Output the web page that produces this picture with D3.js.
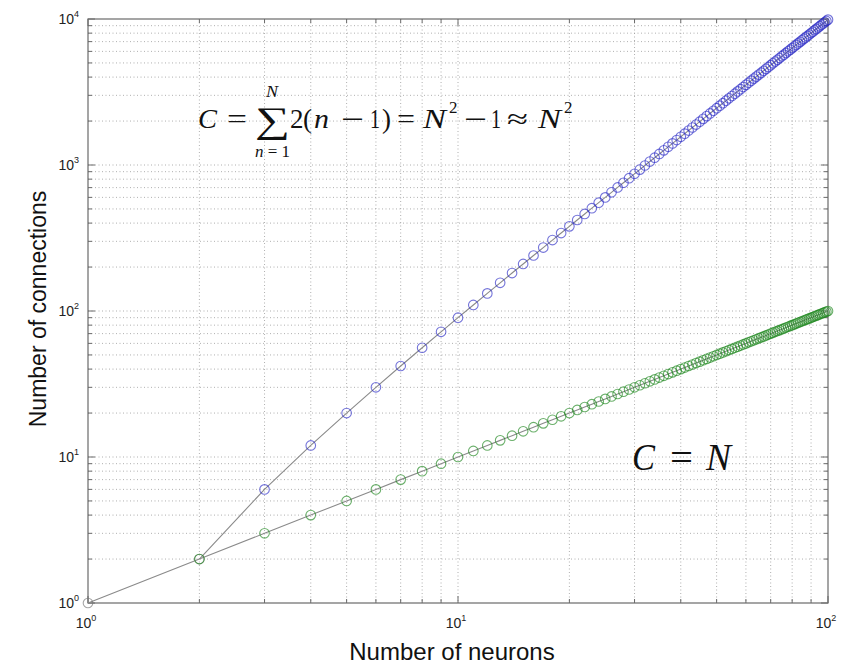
<!DOCTYPE html>
<html>
<head>
<meta charset="utf-8">
<script src="https://cdn.jsdelivr.net/npm/d3@7"></script>
<style>
  html, body { margin: 0; padding: 0; background: #fff; }
  svg { display: block; }
</style>
</head>
<body>
<svg id="chart" width="844" height="667"></svg>
<script>
// Number of neurons N = 1 … 100
const neurons = [
  1, 2, 3, 4, 5, 6, 7, 8, 9, 10,
  11, 12, 13, 14, 15, 16, 17, 18, 19, 20,
  21, 22, 23, 24, 25, 26, 27, 28, 29, 30,
  31, 32, 33, 34, 35, 36, 37, 38, 39, 40,
  41, 42, 43, 44, 45, 46, 47, 48, 49, 50,
  51, 52, 53, 54, 55, 56, 57, 58, 59, 60,
  61, 62, 63, 64, 65, 66, 67, 68, 69, 70,
  71, 72, 73, 74, 75, 76, 77, 78, 79, 80,
  81, 82, 83, 84, 85, 86, 87, 88, 89, 90,
  91, 92, 93, 94, 95, 96, 97, 98, 99, 100
];

// Fully connected network: connections for each N
const connectionsFull = [
  0, 2, 6, 12, 20, 30, 42, 56, 72, 90,
  110, 132, 156, 182, 210, 240, 272, 306, 342, 380,
  420, 462, 506, 552, 600, 650, 702, 756, 812, 870,
  930, 992, 1056, 1122, 1190, 1260, 1332, 1406, 1482, 1560,
  1640, 1722, 1806, 1892, 1980, 2070, 2162, 2256, 2352, 2450,
  2550, 2652, 2756, 2862, 2970, 3080, 3192, 3306, 3422, 3540,
  3660, 3782, 3906, 4032, 4160, 4290, 4422, 4556, 4692, 4830,
  4970, 5112, 5256, 5402, 5550, 5700, 5852, 6006, 6162, 6320,
  6480, 6642, 6806, 6972, 7140, 7310, 7482, 7656, 7832, 8010,
  8190, 8372, 8556, 8742, 8930, 9120, 9312, 9506, 9702, 9900
];

// Linear (chain-like) network: connections for each N
const connectionsLinear = [
  1, 2, 3, 4, 5, 6, 7, 8, 9, 10,
  11, 12, 13, 14, 15, 16, 17, 18, 19, 20,
  21, 22, 23, 24, 25, 26, 27, 28, 29, 30,
  31, 32, 33, 34, 35, 36, 37, 38, 39, 40,
  41, 42, 43, 44, 45, 46, 47, 48, 49, 50,
  51, 52, 53, 54, 55, 56, 57, 58, 59, 60,
  61, 62, 63, 64, 65, 66, 67, 68, 69, 70,
  71, 72, 73, 74, 75, 76, 77, 78, 79, 80,
  81, 82, 83, 84, 85, 86, 87, 88, 89, 90,
  91, 92, 93, 94, 95, 96, 97, 98, 99, 100
];

const xDecades = [1, 10, 100];
const yDecades = [1, 10, 100, 1000, 10000];
const xTickExponents = ["0", "1", "2"];
const yTickExponents = ["0", "1", "2", "3", "4"];

const svg = d3.select("#chart");
const pLeft = 88, pRight = 828, pTop = 19, pBottom = 603;

const x = d3.scaleLog().domain([1, 100]).range([pLeft, pRight]);
const y = d3.scaleLog().domain([1, 10000]).range([pBottom, pTop]);

// minor + major tick values on each axis
const xAll = x.ticks();
const yAll = y.ticks();

const gridColor = "#9a9a9a";
const frameColor = "#6a6a6a";

// dotted grid
const grid = svg.append("g");
grid.selectAll("line.vx").data(xAll.filter(v => v > 1 && v < 100)).join("line")
  .attr("x1", d => x(d)).attr("x2", d => x(d))
  .attr("y1", pTop).attr("y2", pBottom)
  .attr("stroke", gridColor).attr("stroke-width", 0.8)
  .attr("stroke-dasharray", "1,2.5");
grid.selectAll("line.hy").data(yAll.filter(v => v > 1 && v < 10000)).join("line")
  .attr("x1", pLeft).attr("x2", pRight)
  .attr("y1", d => y(d)).attr("y2", d => y(d))
  .attr("stroke", gridColor).attr("stroke-width", 0.8)
  .attr("stroke-dasharray", "1,2.5");

// inward ticks on all four sides
const ticks = svg.append("g").attr("stroke", frameColor).attr("stroke-width", 1);
const isMajor = v => Math.abs(Math.log10(v) - Math.round(Math.log10(v))) < 1e-9;
xAll.forEach(v => {
  const len = isMajor(v) ? 7 : 4;
  ticks.append("line").attr("x1", x(v)).attr("x2", x(v)).attr("y1", pBottom).attr("y2", pBottom - len);
  ticks.append("line").attr("x1", x(v)).attr("x2", x(v)).attr("y1", pTop).attr("y2", pTop + len);
});
yAll.forEach(v => {
  const len = isMajor(v) ? 7 : 4;
  ticks.append("line").attr("x1", pLeft).attr("x2", pLeft + len).attr("y1", y(v)).attr("y2", y(v));
  ticks.append("line").attr("x1", pRight).attr("x2", pRight - len).attr("y1", y(v)).attr("y2", y(v));
});

// frame
svg.append("rect")
  .attr("x", pLeft).attr("y", pTop)
  .attr("width", pRight - pLeft).attr("height", pBottom - pTop)
  .attr("fill", "none").attr("stroke", frameColor).attr("stroke-width", 1.2);

// tick labels with superscript exponents
const tickFont = "'Liberation Sans', Arial, sans-serif";
xDecades.forEach((v, i) => {
  const t = svg.append("text")
    .attr("x", x(v) - 2).attr("y", 628)
    .attr("text-anchor", "middle")
    .attr("font-family", tickFont).attr("font-size", 14).attr("fill", "#222");
  t.append("tspan").text("10");
  t.append("tspan").attr("dy", -7).attr("font-size", 9).text(xTickExponents[i]);
});
yDecades.forEach((v, i) => {
  const t = svg.append("text")
    .attr("x", 79).attr("y", y(v) + 5)
    .attr("text-anchor", "end")
    .attr("font-family", tickFont).attr("font-size", 14).attr("fill", "#222");
  t.append("tspan").text("10");
  t.append("tspan").attr("dy", -7).attr("font-size", 9).text(yTickExponents[i]);
});

// axis titles
svg.append("text")
  .attr("x", 452).attr("y", 660)
  .attr("text-anchor", "middle")
  .attr("font-family", tickFont).attr("font-size", 24).attr("fill", "#111")
  .text("Number of neurons");
svg.append("text")
  .attr("transform", `translate(46,309) rotate(-90)`)
  .attr("text-anchor", "middle")
  .attr("font-family", tickFont).attr("font-size", 23).attr("fill", "#111")
  .text("Number of connections");

// series
const series = [
  { values: connectionsFull, color: "#2a2ac4" },
  { values: connectionsLinear, color: "#1c861c" }
];
const line = d3.line().x(d => x(d[0])).y(d => y(d[1]));

series.forEach(s => {
  const pts = neurons.map((n, i) => [n, s.values[i]]).filter(d => d[1] > 0);
  svg.append("path")
    .datum(pts)
    .attr("d", line)
    .attr("fill", "none")
    .attr("stroke", "#8a8a8a").attr("stroke-width", 1.1);
  svg.append("g").selectAll("circle").data(pts).join("circle")
    .attr("cx", d => x(d[0])).attr("cy", d => y(d[1]))
    .attr("r", 4.8)
    .attr("fill", "none")
    .attr("stroke", (d, i) => i === 0 && d[1] <= 2 ? "#777" : s.color)
    .attr("stroke-opacity", 0.65)
    .attr("stroke-width", 1.1);
});

// formula annotations
const mathFont = "'Liberation Serif', 'DejaVu Serif', serif";
const f = svg.append("g").attr("font-family", mathFont).attr("fill", "#111");
const piece = (txt, px, py, size, italic, width) => {
  const t = f.append("text").attr("x", px).attr("y", py).attr("font-size", size)
    .attr("font-style", italic ? "italic" : "normal").text(txt);
  if (width) t.attr("textLength", width).attr("lengthAdjust", "spacingAndGlyphs");
  return t;
};

piece("C", 198, 128, 27, true, 19);
piece("=", 227, 128, 27, false, 20);
piece("\u2211", 255, 132, 36, false, 35);
piece("N", 266, 97, 17, true, 12);
const lower = f.append("text").attr("x", 255).attr("y", 157).attr("font-size", 17)
  .attr("textLength", 35).attr("lengthAdjust", "spacing");
lower.append("tspan").attr("font-style", "italic").text("n");
lower.append("tspan").text("=1");
piece("2", 290, 128, 27, false);
piece("(", 303, 128, 27, false);
piece("n", 314, 128, 27, true, 15);
piece("\u2212", 341, 128, 27, false, 23);
piece("1", 370, 128, 27, false, 10);
piece(")", 382, 128, 27, false);
piece("=", 397, 128, 27, false, 18);
piece("N", 423, 128, 27, true, 23);
piece("2", 449, 113, 17, false);
piece("\u2212", 464, 128, 27, false, 23);
piece("1", 491, 128, 27, false, 10);
piece("\u2248", 507, 128, 27, false, 21);
piece("N", 538, 128, 27, true, 23);
piece("2", 564, 113, 17, false);

piece("C", 632, 470, 37, true, 23);
piece("=", 670, 470, 37, false, 23);
piece("N", 706, 470, 37, true, 25);
</script>
</body>
</html>
